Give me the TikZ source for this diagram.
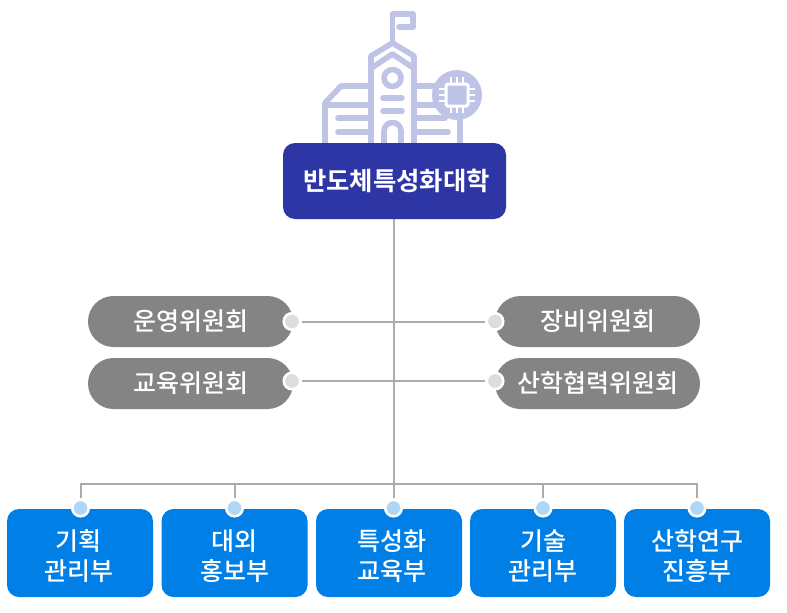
\documentclass[tikz,border=0pt]{standalone}
\usepackage{fontspec}
\setmainfont{Noto Sans CJK KR Medium}
\newfontfamily\krbold{Noto Sans CJK KR Bold}
\newcommand{\dtop}{\rule{0pt}{28pt}}
\definecolor{lilac}{HTML}{BFC3E6}
\definecolor{navyb}{HTML}{2E35A5}
\definecolor{pillg}{HTML}{848484}
\definecolor{bluebox}{HTML}{0080E6}
\definecolor{bluedot}{HTML}{AED6F7}
\definecolor{greydot}{HTML}{DDDDDD}
\definecolor{wire}{HTML}{ABABAB}
\tikzset{
  x=1pt,y=-1pt,
  icon/.style={draw=lilac,line width=5.6pt,line cap=round,line join=round},
  mainbox/.style={rectangle,rounded corners=12pt,fill=navyb,minimum width=223pt,minimum height=76pt,inner sep=0pt,text=white,font=\krbold\fontsize{25.4}{30}\selectfont},
  pill/.style={rectangle,rounded corners=25.5pt,fill=pillg,minimum width=205pt,minimum height=51pt,inner sep=0pt,text=white,font=\fontsize{25}{30}\selectfont},
  deptbox/.style={rectangle,rounded corners=12pt,fill=bluebox,minimum width=146pt,minimum height=88pt,inner sep=0pt,text=white,align=center,font=\fontsize{25}{30}\selectfont},
  gdot/.style={circle,fill=greydot,draw=white,line width=2.6pt,minimum size=16.5pt,inner sep=0pt},
  bdot/.style={circle,fill=bluedot,draw=white,line width=2.6pt,minimum size=16.5pt,inner sep=0pt},
  wireline/.style={draw=wire,line width=2pt},
}
\begin{document}
\begin{tikzpicture}
\useasboundingbox (0,0) rectangle (787,613);
\fill[white] (0,0) rectangle (787,613);
% building icon
\draw[icon] (392.5,43) -- (392.5,14) -- (413,14) -- (413,27) -- (399,27);
\draw[icon] (371,143) -- (371,56) -- (392.5,43) -- (414,56) -- (414,143);
\draw[icon] (373,67) -- (392.5,54) -- (412,67);
\draw[icon] (392.5,78) circle (8.5);
\draw[icon] (383,98) -- (402,98);
\draw[icon] (383,111) -- (402,111);
\draw[icon] (384,143) -- (384,131) arc (180:0:8.5 and -8.5) -- (401,143);
\draw[icon] (368,86) -- (341,86) -- (325,103) -- (325,143);
\draw[icon] (325,105) -- (368,105);
\draw[icon] (338,118) -- (368,118);
\draw[icon] (338,132) -- (368,132);
\draw[icon] (417,86) -- (440,86);
\draw[icon] (417,105) -- (440,105);
\draw[icon] (417,118) -- (445,118);
\draw[icon] (417,132) -- (448,132);
\draw[icon] (460,115) -- (460,143);
\fill[lilac] (457,95) circle (25);
\draw[white,line width=3pt,rounded corners=1.5pt] (446,84) rectangle (468,106);
\fill[lilac] (451.5,89.5) rectangle (462.5,100.5);
\foreach \d in {-6,0,6}{
  \draw[white,line width=2.2pt] (457+\d,84) -- (457+\d,77);
  \draw[white,line width=2.2pt] (457+\d,106) -- (457+\d,113);
  \draw[white,line width=2.2pt] (446,95+\d) -- (439,95+\d);
  \draw[white,line width=2.2pt] (468,95+\d) -- (475,95+\d);
}
% boxes
\node[mainbox] (main) at (394.5,181) {\kern4pt\raisebox{2.5pt}{반도체특성화대학}};
\node[pill] (opc) at (190.5,321.5) {운영위원회};
\node[pill] (edc) at (190.5,383.5) {교육위원회};
\node[pill] (eqc) at (597.5,321.5) {장비위원회};
\node[pill] (iac) at (597.5,383.5) {산학협력위원회};
\node[deptbox] (d1) at (80,553) {\dtop 기획\kern3pt\\관리부\kern3pt};
\node[deptbox] (d2) at (234.5,553) {\dtop 대외\\홍보부};
\node[deptbox] (d3) at (389,553) {\dtop\kern6pt 특성화\\\kern6pt 교육부};
\node[deptbox] (d4) at (543,553) {\dtop 기술\\관리부};
\node[deptbox] (d5) at (697,553) {\dtop 산학연구\\진흥부};
% connector dots
\node[gdot] (g1) at (292,321.5) {};
\node[gdot] (g2) at (292,381) {};
\node[gdot] (g3) at (495,321.5) {};
\node[gdot] (g4) at (495,381) {};
\node[bdot] (b1) at (80.5,508) {};
\node[bdot] (b2) at (234.5,508) {};
\node[bdot] (b3) at (393.5,508) {};
\node[bdot] (b4) at (543,508) {};
\node[bdot] (b5) at (697,508) {};
\coordinate (junc) at (393.5,484);
\coordinate (mainfoot) at (393.5,219);
% connectors
\draw[wireline] (mainfoot) -- (b3);
\draw[wireline] (g1) -- (g3);
\draw[wireline] (g2) -- (g4);
\draw[wireline] (b1) -- (b1 |- junc) -- (b5 |- junc) -- (b5);
\draw[wireline] (b2) -- (b2 |- junc);
\draw[wireline] (b4) -- (b4 |- junc);
\end{tikzpicture}
\end{document}
